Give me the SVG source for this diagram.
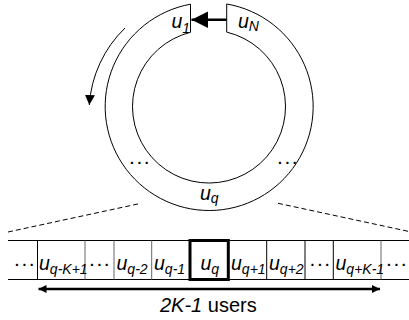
<svg xmlns="http://www.w3.org/2000/svg" width="409" height="320" viewBox="0 0 409 320">
  <style>
    .ln { fill: none; stroke: #000; stroke-width: 1; }
    .gray { stroke: #666; }
    .dash { fill: none; stroke: #000; stroke-width: 1; stroke-dasharray: 5 3; }
    .arr { fill: none; stroke: #000; }
    .lbl { font-family: "Liberation Sans", Arial, sans-serif; font-size: 19.5px; font-style: italic; fill: #000; }
    .sub { font-size: 14px; }
    .dots { font-family: "Liberation Sans", Arial, sans-serif; font-size: 21px; fill: #000; letter-spacing: 1.6px; }
    .cap { font-family: "Liberation Sans", Arial, sans-serif; font-size: 20px; fill: #000; }
  </style>
  <defs>
    <marker id="headBig" viewBox="0 0 10 10" refX="10" refY="5" markerUnits="userSpaceOnUse" markerWidth="18.5" markerHeight="16.5" orient="auto">
      <path d="M0,0 L10,5 L0,10 Z" fill="#000"/>
    </marker>
    <marker id="headSmall" viewBox="0 0 10 10" refX="10" refY="5" markerUnits="userSpaceOnUse" markerWidth="8" markerHeight="10" orient="auto-start-reverse">
      <path d="M0,0 L10,5 L0,10 Z" fill="#000"/>
    </marker>
    <marker id="headRot" viewBox="0 0 10 10" refX="10" refY="5" markerUnits="userSpaceOnUse" markerWidth="10" markerHeight="11" orient="auto">
      <path d="M0,0 L10,5 L0,10 Z" fill="#000"/>
    </marker>
  </defs>

  <!-- ring of users with a gap at the top -->
  <g id="ring">
    <path class="ln" d="M190.5,4.2 A104,104 0 1 0 226.7,4.0 L226.7,32.1 A76.5,76.5 0 1 1 190.5,32.3 Z"/>
    <text class="lbl" x="171.5" y="28">u<tspan class="sub" dy="5">1</tspan></text>
    <text class="lbl" x="238" y="28">u<tspan class="sub" dy="3">N</tspan></text>
    <text class="dots" x="129" y="164">...</text>
    <text class="dots" x="277" y="164">...</text>
    <text class="lbl" x="200" y="200">u<tspan class="sub" dy="3">q</tspan></text>
  </g>

  <!-- window of 2K-1 neighbouring users -->
  <g id="window">
    <line class="ln" x1="8" y1="240.5" x2="409" y2="240.5"/>
    <line class="ln" x1="8" y1="279.5" x2="409" y2="279.5"/>
    <line class="ln" x1="37.5" y1="240.5" x2="37.5" y2="279.5"/>
    <line class="ln gray" x1="85" y1="240.5" x2="85" y2="279.5"/>
    <line class="ln gray" x1="114" y1="240.5" x2="114" y2="279.5"/>
    <line class="ln gray" x1="151.7" y1="240.5" x2="151.7" y2="279.5"/>
    <line class="ln" x1="266.7" y1="240.5" x2="266.7" y2="279.5"/>
    <line class="ln" x1="305" y1="240.5" x2="305" y2="279.5"/>
    <line class="ln" x1="333.3" y1="240.5" x2="333.3" y2="279.5"/>
    <line class="ln gray" x1="381" y1="240.5" x2="381" y2="279.5"/>
  </g>
  <g id="cell-left-dots"><text class="dots" x="14" y="265.5">...</text></g>
  <g id="cell-q-K+1"><text class="lbl" x="39" y="269.5">u<tspan class="sub" dy="4">q-K+1</tspan></text></g>
  <g id="cell-mid-dots-1"><text class="dots" x="89" y="265.5">...</text></g>
  <g id="cell-q-2"><text class="lbl" x="116.5" y="269.5">u<tspan class="sub" dy="4">q-2</tspan></text></g>
  <g id="cell-q-1"><text class="lbl" x="154" y="269.5">u<tspan class="sub" dy="4">q-1</tspan></text></g>
  <g id="cell-q">
    <rect x="190" y="240.5" width="38.3" height="39" fill="none" stroke="#000" stroke-width="3"/>
    <text class="lbl" x="200.5" y="269.5">u<tspan class="sub" dy="4">q</tspan></text>
  </g>
  <g id="cell-q+1"><text class="lbl" x="231" y="269.5">u<tspan class="sub" dy="4">q+1</tspan></text></g>
  <g id="cell-q+2"><text class="lbl" x="269" y="269.5">u<tspan class="sub" dy="4">q+2</tspan></text></g>
  <g id="cell-mid-dots-2"><text class="dots" x="309.5" y="265.5">...</text></g>
  <g id="cell-q+K-1"><text class="lbl" x="335.5" y="269.5">u<tspan class="sub" dy="4">q+K-1</tspan></text></g>
  <g id="cell-right-dots"><text class="dots" x="386" y="265.5">...</text></g>

  <g id="caption">
    <text class="cap" x="160" y="312"><tspan font-style="italic">2K-1</tspan> users</text>
  </g>

  <!-- connectors -->
  <g id="connectors">
    <line class="arr" x1="226.5" y1="19.7" x2="191.5" y2="19.7" stroke-width="2.5" marker-end="url(#headBig)"/>
    <path class="arr" d="M125,28 A118,118 0 0 0 89.3,105" stroke-width="1" marker-end="url(#headRot)"/>
    <line class="dash" x1="8" y1="232" x2="141" y2="203.3"/>
    <line class="dash" x1="278" y1="203.3" x2="409" y2="231.5"/>
    <line class="arr" x1="38.5" y1="289" x2="380" y2="289" stroke-width="2.5" marker-start="url(#headSmall)" marker-end="url(#headSmall)"/>
  </g>
</svg>
